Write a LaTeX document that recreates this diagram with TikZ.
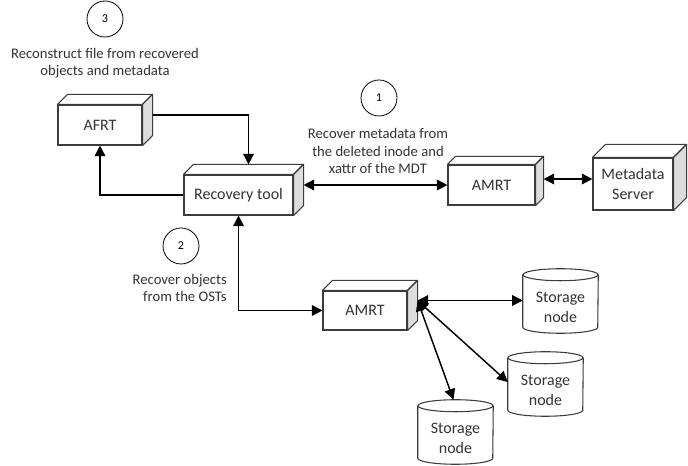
\documentclass[tikz,border=0pt]{standalone}
\usepackage{fontspec}
\setmainfont{Carlito}
\usetikzlibrary{arrows.meta}
\definecolor{txt}{HTML}{333333}
\definecolor{edge}{HTML}{3C3C3C}
\definecolor{side}{HTML}{DDDDDD}
\tikzset{
  box/.style={draw=edge, line width=0.8pt, fill=white, inner sep=0pt, align=center,
    text=txt, font=\fontsize{12}{15}\selectfont},
  store/.style={draw=none, inner sep=0pt, align=center, text=txt,
    minimum width=56.25pt, minimum height=39pt, font=\fontsize{12}{15}\selectfont},
  note/.style={align=center, text=txt, inner sep=0pt, font=\fontsize{11}{13}\selectfont},
  num/.style={circle, draw=black, line width=0.6pt, minimum size=27pt, inner sep=0pt,
    font=\fontsize{9}{10}\selectfont},
  conn/.style={line width=1.1pt, draw=black, -{Triangle[length=8pt,width=8pt]}},
  dconn/.style={line width=1.1pt, draw=black,
    {Triangle[length=8pt,width=8pt]}-{Triangle[length=8pt,width=8pt]}},
  face/.style={draw=edge, line width=0.8pt, line join=round}
}
\newcommand{\extrude}[2]{%
  \draw[face, fill=white] (#1.north west) -- ++(#2,#2) -- ([shift={(#2,#2)}]#1.north east) -- (#1.north east) -- cycle;
  \draw[face, fill=side] (#1.north east) -- ++(#2,#2) -- ([shift={(#2,#2)}]#1.south east) -- (#1.south east) -- cycle;
}
\newcommand{\cylbody}[1]{%
  \draw[face] ([shift={(0,6)}]#1.north west) -- ([shift={(0,6)}]#1.south west)
    arc[start angle=180, end angle=360, x radius=28.125pt, y radius=4.5pt]
    -- ([shift={(0,6)}]#1.north east);
  \draw[face] ([shift={(0,6)}]#1.north) ellipse[x radius=28.125pt, y radius=4.5pt];
}
\begin{document}
\begin{tikzpicture}[x=0.75pt, y=0.75pt]
\path[use as bounding box] (0,0) rectangle (688,466);

% numbered circles and notes
\node[num] (c3) at (105,447) {3};
\node[note] (t3) at (105,403) {Reconstruct file from recovered\\objects and metadata};
\node[num] (c1) at (379,368) {1};
\node[note] (t1) at (378,315) {Recover metadata from\\the deleted inode and\\xattr of the MDT};
\node[num] (c2) at (181,220) {2};
\node[note, align=right, anchor=east] (t2) at (227,178) {Recover objects\\from the OSTs};

% boxes
\node[box, minimum width=63pt, minimum height=30pt] (afrt) at (100,341) {AFRT};
\extrude{afrt}{10}
\node[box, minimum width=81.75pt, minimum height=30pt] (rt) at (238.5,271) {Recovery tool};
\extrude{rt}{10}
\node[box, minimum width=65.25pt, minimum height=30pt] (amrt1) at (491.5,281) {AMRT};
\extrude{amrt1}{8}
\node[box, minimum width=60pt, minimum height=39pt] (mds) at (633,282) {Metadata\\Server};
\extrude{mds}{13}
\node[box, minimum width=63pt, minimum height=29.25pt] (amrt2) at (365,155.5) {AMRT};
\extrude{amrt2}{10}

% storage nodes
\node[store] (sn1) at (560.5,159) {Storage\\node};
\cylbody{sn1}
\node[store] (sn2) at (545.5,76) {Storage\\node};
\cylbody{sn2}
\node[store] (sn3) at (455.5,28) {Storage\\node};
\cylbody{sn3}

% helper coordinates
\coordinate (afrtR) at ([shift={(10,10)}]afrt.east);
\coordinate (rtTop) at ([shift={(10,10)}]rt.north);
\coordinate (rtR) at ([shift={(10,0)}]rt.east);
\coordinate (a1R) at ([shift={(8,0)}]amrt1.east);
\coordinate (mdsL) at ([shift={(0,5)}]mds.west);
\coordinate (hub) at ([shift={(10,10)}]amrt2.east);
\coordinate (sn2L) at ([shift={(0,8)}]sn2.west);
\coordinate (sn3T) at ([shift={(-2,12)}]sn3.north);

% connectors
\draw[conn] (afrtR) -| (rtTop);
\draw[conn] (rt.west) -| (afrt.south);
\draw[dconn] (rtR |- amrt1.west) -- (amrt1.west);
\draw[dconn] (a1R |- mdsL) -- (mdsL);
\draw[dconn] (rt.south) |- (amrt2.west);
\draw[dconn] (hub) -- (sn1.west |- hub);
\draw[dconn] (hub) -- (sn2L);
\draw[dconn] (hub) -- (sn3T);
\end{tikzpicture}
\end{document}
